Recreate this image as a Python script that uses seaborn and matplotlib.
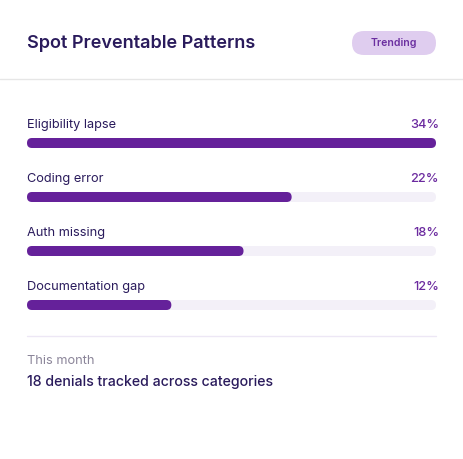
import matplotlib
matplotlib.use("Agg")
import matplotlib.pyplot as plt
import seaborn as sns
import pandas as pd
from matplotlib.patches import FancyBboxPatch
from matplotlib.lines import Line2D

categories = ["Eligibility lapse", "Coding error", "Auth missing", "Documentation gap"]
values = [34, 22, 18, 12]
value_labels = ["34%", "22%", "18%", "12%"]
title = "Spot Preventable Patterns"
badge = "Trending"
foot_small = "This month"
foot_main = "18 denials tracked across categories"

sns.set_theme(style="white")
plt.rcParams["font.family"] = ["Inter", "DejaVu Sans"]

W, H = 463, 459
fig = plt.figure(figsize=(W / 100, H / 100), dpi=100)
fig.patch.set_facecolor("white")

def fx(x):
    return x / W

def fy(y):
    return 1 - y / H

BAR = "#65219a"
TRACK = "#f3f0f8"
DARK = "#2a1b5c"
PCT = "#6b2a9f"

# header
fig.text(fx(27), fy(44), title, fontsize=13, fontweight="semibold", color=DARK,
         va="center", ha="left")
pill = FancyBboxPatch((fx(352), fy(55)), fx(84), 24 / H,
                      boxstyle="round,pad=0,rounding_size=%f" % (12 / W),
                      mutation_aspect=W / H, transform=fig.transFigure,
                      facecolor="#dfcdef", edgecolor="none")
fig.patches.append(pill)
fig.text(fx(394), fy(43.5), badge, fontsize=7.6, fontweight="semibold", color="#6b2fa0",
         va="center", ha="center")
fig.lines.append(Line2D([0, 1], [fy(79), fy(79)], transform=fig.transFigure,
                        color="#e6e6e6", linewidth=1))

# bars axes
top_px, bot_px = 116, 332
ax = fig.add_axes([fx(27), (H - bot_px) / H, 409 / W, (bot_px - top_px) / H])
vmax = max(values)
df = pd.DataFrame({"category": categories, "value": values,
                   "track": [vmax] * len(values)})
bw = 10 / 54
sns.barplot(data=df, y="category", x="track", color=TRACK, width=bw, ax=ax,
            orient="h", saturation=1, edgecolor="none")
sns.barplot(data=df, y="category", x="value", color=BAR, width=bw, ax=ax,
            orient="h", saturation=1, edgecolor="none")
ax.set_xlim(0, vmax)
ax.set_ylim(len(values) - 0.5, -0.5)
ax.axis("off")

xu = vmax / 409.0
yu = 1 / 54.0
rects = list(ax.patches)
for p in rects:
    x0, y0 = p.get_x(), p.get_y()
    w, h = p.get_width(), p.get_height()
    fc = p.get_facecolor()
    p.remove()
    rp = FancyBboxPatch((x0, y0), w, h,
                        boxstyle="round,pad=0,rounding_size=%f" % (5 * xu),
                        mutation_aspect=yu / xu, facecolor=fc, edgecolor="none")
    ax.add_patch(rp)

for i, (c, lab) in enumerate(zip(categories, value_labels)):
    ax.text(0, i - 0.325, c, fontsize=9.2, color=DARK, va="center", ha="left")
    ax.text(vmax + 3 * xu, i - 0.325, lab, fontsize=9.2, fontweight="medium", color=PCT,
            va="center", ha="right")

# footer
fig.lines.append(Line2D([fx(27), fx(436)], [fy(336), fy(336)], transform=fig.transFigure,
                        color="#ede7f5", linewidth=1))
fig.text(fx(27), fy(361), foot_small, fontsize=9.2, color="#8b8599", va="center", ha="left")
fig.text(fx(27), fy(382), foot_main, fontsize=10.2, fontweight="medium", color=DARK,
         va="center", ha="left")

fig.savefig("out.png", dpi=100, facecolor="white")
